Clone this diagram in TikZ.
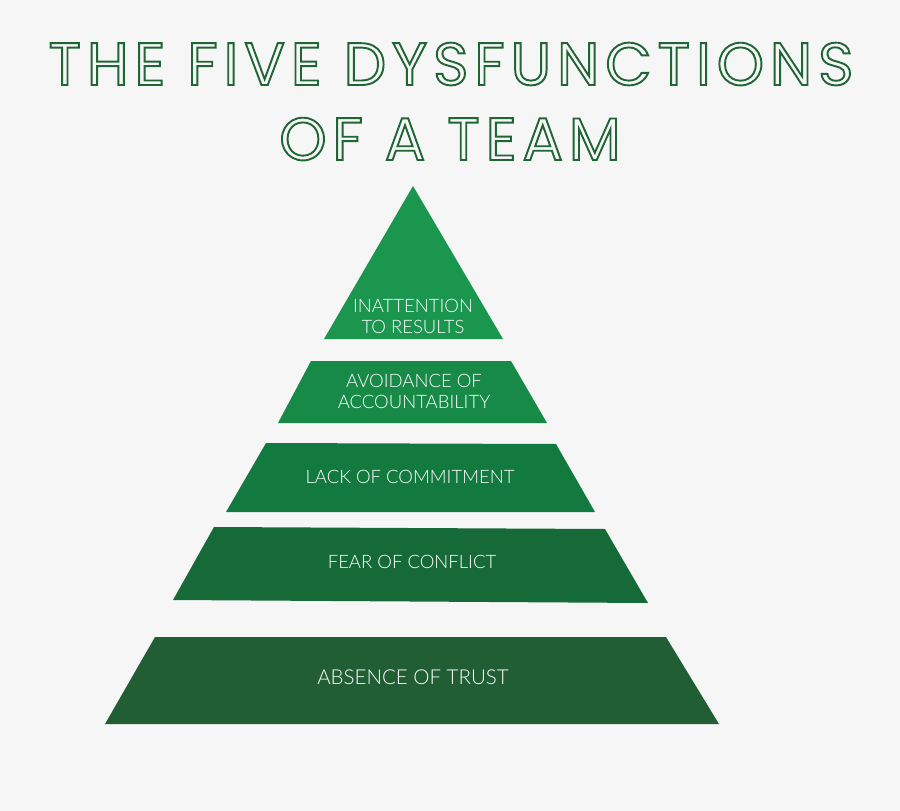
\documentclass[tikz,border=0pt]{standalone}
\usepackage{fontspec}
\IfFontExistsTF{Poppins}{\newfontfamily\titlefont[LetterSpace=10]{Poppins}}{\newfontfamily\titlefont[LetterSpace=10]{Lato}}
\IfFontExistsTF{Lato Light}{\newfontfamily\bodyfont{Lato Light}}{\newfontfamily\bodyfont{Lato}}
\definecolor{bg}{HTML}{F6F6F6}
\definecolor{titlegreen}{HTML}{1F6535}
\definecolor{lvlA}{HTML}{1A964F}
\definecolor{lvlB}{HTML}{188A47}
\definecolor{lvlC}{HTML}{137A3F}
\definecolor{lvlD}{HTML}{166A38}
\definecolor{lvlE}{HTML}{215E33}
\newcommand\outlinetxt[1]{\special{pdf:literal direct 1 Tr 1.9 w}#1\special{pdf:literal direct 0 Tr}}
\tikzset{
  title/.style={text=titlegreen, font=\titlefont\fontsize{60}{60}\selectfont, inner sep=0pt, anchor=base},
  label/.style={text=white, font=\bodyfont\fontsize{18.5}{21}\selectfont, align=center, inner sep=0pt},
}
\begin{document}
\begin{tikzpicture}[x=1pt,y=-1pt]
\fill[bg] (0,0) rectangle (900,811);
\useasboundingbox (0,0) rectangle (900,811);
% title
\node[title] (t1) at (451,85) {\outlinetxt{THE FIVE DYSFUNCTIONS}};
\node[title] (t2) at (450,160) {\outlinetxt{OF A TEAM}};
% pyramid levels
\fill[lvlA] (413,186) -- (503,339) -- (324,339) -- cycle;
\fill[lvlB] (311,361) -- (511,361) -- (547,423) -- (278,423) -- cycle;
\fill[lvlC] (266,443) -- (556,444) -- (595,512) -- (226,512) -- cycle;
\fill[lvlD] (214,527) -- (605,529) -- (648,603) -- (173,600) -- cycle;
\fill[lvlE] (155,637) -- (666,637) -- (719,724) -- (105,724) -- cycle;
% labels
\node[label] (l1) at (413,316) {INATTENTION\\TO RESULTS};
\node[label] (l2) at (414,391) {AVOIDANCE OF\\ACCOUNTABILITY};
\node[label] (l3) at (410,477) {LACK OF COMMITMENT};
\node[label] (l4) at (412,562) {FEAR OF CONFLICT};
\node[label, font=\bodyfont\fontsize{20.5}{23}\selectfont] (l5) at (413,677) {ABSENCE OF TRUST};
\end{tikzpicture}
\end{document}
